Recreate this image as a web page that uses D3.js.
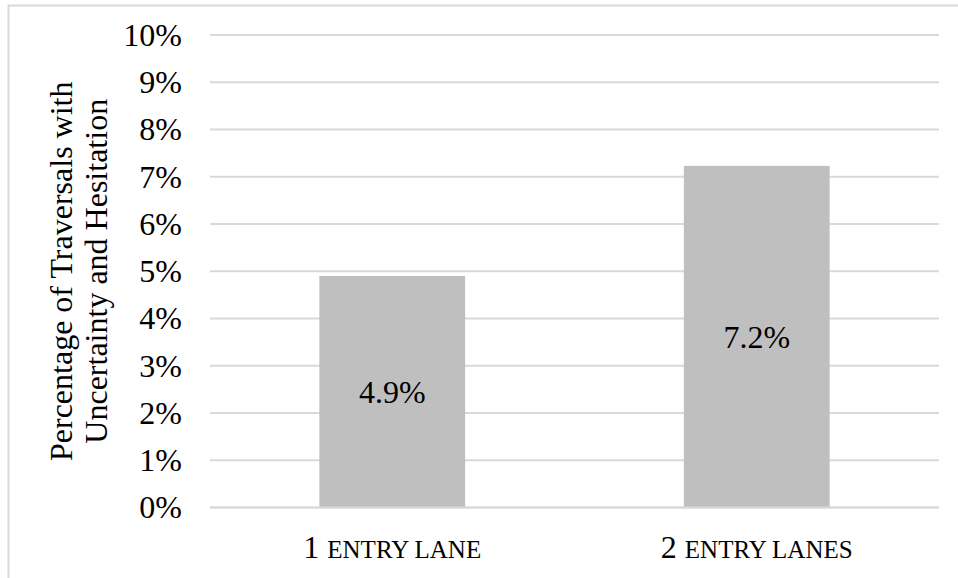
<!DOCTYPE html>
<html>
<head>
<meta charset="utf-8">
<script src="https://d3js.org/d3.v7.min.js"></script>
<style>
    body { margin: 0; background: #fff; }
    svg { display: block; }
</style>
</head>
<body>
<svg id="chart" width="958" height="578"></svg>
<script>
var categories = ['1 entry lane', '2 entry lanes'];
var values = [4.9, 7.23];
var yTicks = [0, 1, 2, 3, 4, 5, 6, 7, 8, 9, 10];
var yTitleLines = ['Percentage of Traversals with', 'Uncertainty and Hesitation'];

var width = 958;
var height = 578;
var margin = { top: 35, left: 210, bottom: 70.5, right: 19 };
var fontFamily = '"Liberation Serif", "Times New Roman", serif';
var fontSize = 32;

var svg = d3.select('#chart');

svg.append('rect')
    .attr('width', width)
    .attr('height', height)
    .attr('fill', '#fff');

// Outer chart border, only its top and left edges fall inside the picture.
svg.append('rect')
    .attr('x', 8.5)
    .attr('y', 5.5)
    .attr('width', width + 20)
    .attr('height', height + 20)
    .attr('fill', 'none')
    .attr('stroke', '#d9d9d9')
    .attr('stroke-width', 2);

var plotW = width - margin.left - margin.right;
var plotH = height - margin.top - margin.bottom;

var x = d3.scaleBand()
    .domain(categories)
    .range([0, plotW])
    .paddingInner(0.6)
    .paddingOuter(0.3);

var y = d3.scaleLinear()
    .domain([0, 10])
    .range([plotH, 0]);

var g = svg.append('g')
    .attr('transform', 'translate(' + margin.left + ',' + margin.top + ')');

// Gridlines.
g.append('g')
    .selectAll('line')
    .data(yTicks)
    .join('line')
    .attr('x1', 0)
    .attr('x2', plotW)
    .attr('y1', function(d) { return y(d); })
    .attr('y2', function(d) { return y(d); })
    .attr('stroke', '#d9d9d9')
    .attr('stroke-width', 2);

// Y axis labels.
var yAxis = d3.axisLeft(y)
    .tickValues(yTicks)
    .tickSize(0)
    .tickPadding(28)
    .tickFormat(function(d) { return d + '%'; });

g.append('g')
    .call(yAxis)
    .call(function(sel) { sel.select('.domain').remove(); })
    .selectAll('text')
    .attr('font-family', fontFamily)
    .attr('font-size', fontSize)
    .attr('fill', '#000');

// Bars.
g.append('g')
    .selectAll('rect')
    .data(values)
    .join('rect')
    .attr('x', function(d, i) { return x(categories[i]); })
    .attr('y', function(d) { return y(d); })
    .attr('width', x.bandwidth())
    .attr('height', function(d) { return plotH - y(d); })
    .attr('fill', '#bfbfbf');

// Baseline drawn over the bars.
g.append('line')
    .attr('x1', 0)
    .attr('x2', plotW)
    .attr('y1', y(0))
    .attr('y2', y(0))
    .attr('stroke', '#d9d9d9')
    .attr('stroke-width', 2);

// Bar value labels.
g.append('g')
    .selectAll('text')
    .data(values)
    .join('text')
    .attr('x', function(d, i) { return x(categories[i]) + x.bandwidth() / 2; })
    .attr('y', function(d) { return (y(d) + y(0)) / 2; })
    .attr('dy', '0.35em')
    .attr('text-anchor', 'middle')
    .attr('font-family', fontFamily)
    .attr('font-size', fontSize)
    .attr('fill', '#000')
    .text(function(d) { return d.toFixed(1) + '%'; });

// Category labels, small caps done by hand: number full size, words as smaller capitals.
var catLabels = g.append('g')
    .selectAll('text')
    .data(categories)
    .join('text')
    .attr('x', function(d) { return x(d) + x.bandwidth() / 2; })
    .attr('y', plotH + 50)
    .attr('text-anchor', 'middle')
    .attr('font-family', fontFamily)
    .attr('font-size', fontSize)
    .attr('fill', '#000');

catLabels.append('tspan')
    .text(function(d) { return d.split(' ')[0] + ' '; });

catLabels.append('tspan')
    .attr('font-size', 25)
    .text(function(d) { return d.split(' ').slice(1).join(' ').toUpperCase(); });

// Y axis title.
var title = svg.append('text')
    .attr('transform', 'translate(61,' + (margin.top + plotH / 2) + ') rotate(-90)')
    .attr('text-anchor', 'middle')
    .attr('font-family', fontFamily)
    .attr('font-size', fontSize)
    .attr('fill', '#000');

title.selectAll('tspan')
    .data(yTitleLines)
    .join('tspan')
    .attr('x', 0)
    .attr('y', function(d, i) { return i * 35; })
    .attr('dy', '0.35em')
    .text(function(d) { return d; });
</script>
</body>
</html>
